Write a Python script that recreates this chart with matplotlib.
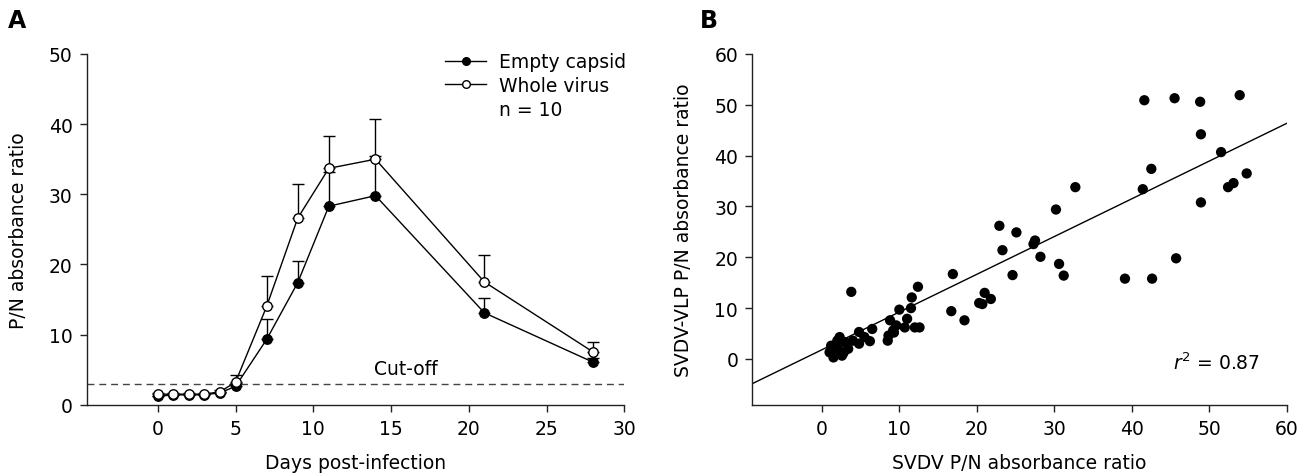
import numpy as np
import matplotlib
matplotlib.use("Agg")
import matplotlib.pyplot as plt
from matplotlib.lines import Line2D

plt.rcParams['font.family'] = ['DejaVu Sans']
plt.rcParams['font.size'] = 13.5
plt.rcParams['mathtext.fontset'] = 'dejavusans'

FS = 13.5

# ---------------- Panel A data ----------------
days = [0, 1, 2, 3, 4, 5, 7, 9, 11, 14, 21, 28]
empty_capsid = [1.2, 1.4, 1.4, 1.4, 1.7, 2.6, 9.3, 17.4, 28.3, 29.8, 13.1, 6.05]
empty_err = [0.1, 0.1, 0.1, 0.1, 0.1, 0.5, 2.9, 3.1, 4.9, 5.7, 2.1, 0.6]
whole_virus = [1.5, 1.5, 1.5, 1.5, 1.85, 3.2, 14.0, 26.6, 33.7, 35.0, 17.5, 7.5]
whole_err = [0.1, 0.1, 0.1, 0.1, 0.2, 1.0, 4.3, 4.8, 4.6, 5.7, 3.8, 1.4]
cutoff = 3.0
a_xticks = [0, 5, 10, 15, 20, 25, 30]
a_yticks = [0, 10, 20, 30, 40, 50]

# ---------------- Panel B data ----------------
svdv = [41.6, 45.5, 48.8, 53.9, 48.9, 51.5, 42.5, 41.4, 32.7, 30.2, 54.8, 53.1,
        52.4, 48.9, 27.5, 27.3, 28.2, 30.6, 31.2, 45.7, 39.1, 42.6,
        22.9, 25.1, 23.3, 24.6, 16.9, 12.4, 3.8, 11.6, 10.0, 11.5,
        16.7, 18.4, 20.3, 20.7, 21.0, 21.8, 11.0, 12.6, 8.8, 10.7, 9.3,
        8.6, 8.5, 6.5, 6.2, 4.8, 5.5, 4.8, 4.0, 12.0, 9.6, 9.2,
        2.3, 1.2, 1.0, 1.5, 2.1, 3.0, 3.4, 2.6, 1.8, 2.8, 1.3, 2.0]
vlp = [50.9, 51.3, 50.6, 51.9, 44.2, 40.7, 37.4, 33.4, 33.8, 29.4, 36.5, 34.6,
       33.8, 30.8, 23.3, 22.6, 20.1, 18.7, 16.4, 19.8, 15.8, 15.8,
       26.2, 24.9, 21.4, 16.5, 16.7, 14.2, 13.2, 12.1, 9.7, 10.0,
       9.4, 7.6, 11.0, 10.8, 13.0, 11.8, 7.9, 6.2, 7.6, 6.2, 5.2,
       4.6, 3.6, 5.9, 3.5, 5.3, 4.3, 3.0, 3.6, 6.2, 6.6, 5.6,
       4.3, 2.6, 1.3, 0.3, 2.0, 3.3, 2.0, 0.65, 1.5, 1.2, 2.2, 3.6]
fit_slope = 0.743
fit_intercept = 1.8
r2_text = "0.87"
b_ticks = [0, 10, 20, 30, 40, 50, 60]

fig = plt.figure(figsize=(13.15, 4.77), dpi=100)
axA = fig.add_axes([0.0659, 0.1495, 0.4089, 0.7352])
axB = fig.add_axes([0.5719, 0.1495, 0.4068, 0.7352])

for ax in (axA, axB):
    for s in ('top', 'right'):
        ax.spines[s].set_visible(False)
    for s in ('left', 'bottom'):
        ax.spines[s].set_linewidth(1.0)
        ax.spines[s].set_color('#222222')
    ax.tick_params(direction='out', length=5, width=1.0, labelsize=FS,
                   color='#222222', pad=5)

# ---- Panel A ----
axA.set_xlim(-4.57, 30)
axA.set_ylim(0, 50)
axA.axhline(cutoff, color='#444444', lw=1.0, ls=(0, (5, 3.5)), zorder=1)
axA.text(13.9, 5.1, 'Cut-off', fontsize=FS, ha='left', va='center')

axA.errorbar(days, empty_capsid, yerr=[np.zeros(len(days)), empty_err],
             fmt='none', ecolor='black', elinewidth=1.0, capsize=4.5,
             capthick=1.0, zorder=2, clip_on=False)
axA.errorbar(days, whole_virus, yerr=[np.zeros(len(days)), whole_err],
             fmt='none', ecolor='black', elinewidth=1.0, capsize=4.5,
             capthick=1.0, zorder=2, clip_on=False)
l1, = axA.plot(days, empty_capsid, '-o', color='black', lw=1.0, ms=6.8,
               mfc='black', mec='black', mew=1.0, zorder=3, clip_on=False,
               label='Empty capsid')
l2, = axA.plot(days, whole_virus, '-o', color='black', lw=1.0, ms=6.8,
               mfc='white', mec='black', mew=1.0, zorder=4, clip_on=False,
               label='Whole virus')
blank = Line2D([], [], linestyle='none', marker=None, label='n = 10')
axA.set_xticks(a_xticks)
axA.set_yticks(a_yticks)
axA.set_xlabel('Days post-infection', fontsize=FS, labelpad=11)
axA.set_ylabel('P/N absorbance ratio', fontsize=FS, labelpad=15)
leg = axA.legend(handles=[l1, l2, blank], loc='upper left',
                 bbox_to_anchor=(0.667, 1.005), frameon=False, fontsize=FS,
                 handlelength=2.19, handletextpad=0.7, labelspacing=0.25,
                 borderaxespad=0, borderpad=0)
for h in leg.legend_handles[:2]:
    h.set_markersize(5.5)

# ---- Panel B ----
axB.set_xlim(-9, 60)
axB.set_ylim(-9, 60)
axB.scatter(svdv, vlp, s=55, color='black', edgecolors='none', zorder=3)
xl = np.array(axB.get_xlim())
axB.plot(xl, fit_slope * xl + fit_intercept, color='black', lw=1.0, zorder=2)
axB.set_xticks(b_ticks)
axB.set_yticks(b_ticks)
axB.set_xlabel('SVDV P/N absorbance ratio', fontsize=FS, labelpad=11)
axB.set_ylabel('SVDV-VLP P/N absorbance ratio', fontsize=FS, labelpad=15)
axB.text(45.3, -0.6, r'$\mathit{r}^{2}$' + ' = ' + r2_text, fontsize=FS,
         ha='left', va='center')

fig.text(0.006, 0.955, 'A', fontsize=17, fontweight='bold', ha='left', va='center')
fig.text(0.532, 0.955, 'B', fontsize=17, fontweight='bold', ha='left', va='center')

fig.savefig('out.png', dpi=100)
